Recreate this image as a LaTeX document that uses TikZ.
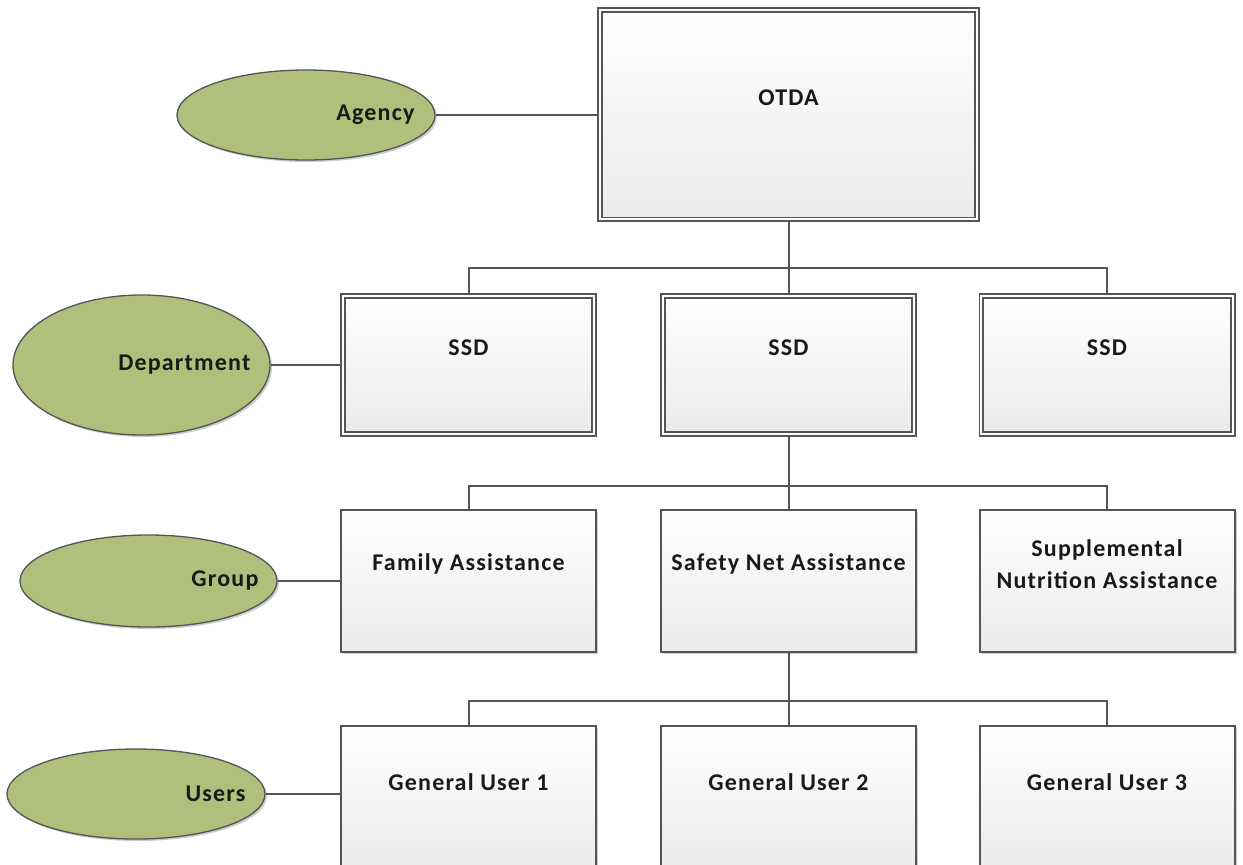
\documentclass[tikz,border=0pt]{standalone}
\usepackage{fontspec}
\setmainfont{Carlito}[LetterSpace=5]
\usetikzlibrary{shapes.geometric,shadows}
\definecolor{olivefill}{HTML}{B0BF7B}
\definecolor{edgegray}{HTML}{555555}
\begin{document}
\begin{tikzpicture}[x=1pt,y=-1pt,
  shad/.style={drop shadow={shadow xshift=2pt, shadow yshift=-2pt, fill=black!45, opacity=0.45}},
  box/.style={draw=edgegray, line width=2pt, top color=white, bottom color=black!8, minimum width=255pt, minimum height=142pt, inner sep=0pt, shad},
  dbox/.style={box, double=white, double distance=2pt, line width=1.8pt, minimum width=251.4pt, minimum height=138.4pt},
  ell/.style={ellipse, draw=edgegray, line width=1.3pt, fill=olivefill, inner sep=0pt, shad},
  txt/.style={font=\fontsize{24}{32}\selectfont\bfseries, text=black!90, align=center, inner sep=0pt},
  etxt/.style={txt, anchor=east},
  conn/.style={draw=edgegray, line width=2pt}
]
\useasboundingbox (0,0) rectangle (1243,865);
\clip (0,0) rectangle (1243,865);

% boxes
\node[dbox, minimum width=376.6pt, minimum height=209.6pt] (otda) at (788.5,114.5) {};
\node[dbox] (ssd1) at (468.5,365) {};
\node[dbox] (ssd2) at (788.5,365) {};
\node[dbox] (ssd3) at (1107,365) {};
\node[box] (grp1) at (468.5,581) {};
\node[box] (grp2) at (788.5,581) {};
\node[box] (grp3) at (1107,581) {};
\node[box] (usr1) at (468.5,797) {};
\node[box] (usr2) at (788.5,797) {};
\node[box] (usr3) at (1107,797) {};

% box texts
\node[txt] (otda-t) at (788.5,98) {OTDA};
\node[txt] (ssd1-t) at (468.5,348) {SSD};
\node[txt] (ssd2-t) at (788.5,348) {SSD};
\node[txt] (ssd3-t) at (1107,348) {SSD};
\node[txt] (grp1-t) at (468.5,564) {Family Assistance};
\node[txt] (grp2-t) at (788.5,564) {Safety Net Assistance};
\node[txt] (grp3-t) at (1107,564) {Supplemental\\Nutrition Assistance};
\node[txt] (usr1-t) at (468.5,782) {General User 1};
\node[txt] (usr2-t) at (788.5,782) {General User 2};
\node[txt] (usr3-t) at (1107,782) {General User 3};

% ellipses
\node[ell, minimum width=258pt, minimum height=90pt] (agency) at (306,115) {};
\node[ell, minimum width=257pt, minimum height=140pt] (dept) at (141.5,365) {};
\node[ell, minimum width=257pt, minimum height=92pt] (group) at (148.5,581) {};
\node[ell, minimum width=258pt, minimum height=90pt] (users) at (136,794) {};
\node[etxt] (agency-t) at ([xshift=-21pt]agency.east) {Agency};
\node[etxt] (dept-t) at ([xshift=-20pt]dept.east) {Department};
\node[etxt] (group-t) at ([xshift=-19pt]group.east) {Group};
\node[etxt] (users-t) at ([xshift=-20pt]users.east) {Users};

% connectors
\coordinate (bus1) at (788.5,268);
\coordinate (bus2) at (788.5,486);
\coordinate (bus3) at (788.5,701);
\draw[conn] (agency.east) -- (otda.west |- agency.east);
\draw[conn] (otda.south) -- (ssd2.north);
\draw[conn] (ssd1.north) -- (ssd1.north |- bus1) -- (ssd3.north |- bus1) -- (ssd3.north);
\draw[conn] (dept.east) -- (ssd1.west);
\draw[conn] (ssd2.south) -- (grp2.north);
\draw[conn] (grp1.north) -- (grp1.north |- bus2) -- (grp3.north |- bus2) -- (grp3.north);
\draw[conn] (group.east) -- (grp1.west);
\draw[conn] (grp2.south) -- (usr2.north);
\draw[conn] (usr1.north) -- (usr1.north |- bus3) -- (usr3.north |- bus3) -- (usr3.north);
\draw[conn] (users.east) -- (users.east -| usr1.west);
\end{tikzpicture}
\end{document}
